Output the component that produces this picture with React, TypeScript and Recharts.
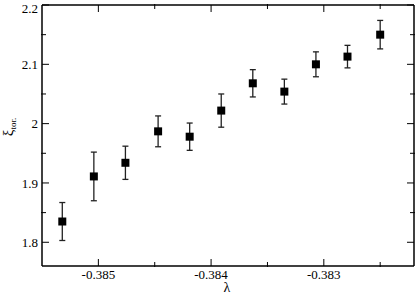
import { ScatterChart, Scatter, XAxis, YAxis, ErrorBar } from "recharts"

// lambda values and xi_tor. with error estimates
const lambdas = [-0.38532, -0.38504, -0.38476, -0.38447, -0.38419, -0.38391, -0.38363, -0.38335, -0.38307, -0.38279, -0.3825]
const xiTor = [1.835, 1.911, 1.934, 1.987, 1.978, 2.022, 2.068, 2.054, 2.1, 2.113, 2.15]
const xiErr = [0.032, 0.041, 0.028, 0.026, 0.023, 0.028, 0.023, 0.021, 0.021, 0.019, 0.024]

const xMajor = [-0.385, -0.384, -0.383]
const xMinor = [-0.3845, -0.3835, -0.3825]
const yMajor = [1.8, 1.9, 2, 2.1, 2.2]
const yMinor = [1.85, 1.95, 2.05, 2.15]

const xDomain = [-0.3855, -0.3822]
const yDomain = [1.76, 2.2]

const data = lambdas.map((x, i) => ({ x, y: xiTor[i], err: xiErr[i] }))

const font = "Liberation Serif, Times New Roman, serif"
const tickStyle = { fontSize: 13, fill: "#000", style: { fontFamily: font } }
const axisLine = { stroke: "#000", strokeWidth: 1.5 }
const tickLine = { stroke: "#000", strokeWidth: 1 }
const noLabel = () => <g />

export default function App() {
  return (
    <div style={{ position: "absolute", left: 0, top: 0, fontFamily: font }}>
      <ScatterChart width={416} height={295} margin={{ top: 3, right: 0, bottom: 27, left: 40 }}
        style={{ fontFamily: font }}>
        {/* major axes (nearest the plot) */}
        <XAxis xAxisId="b" type="number" dataKey="x" domain={xDomain} allowDataOverflow ticks={xMajor}
          height={1} axisLine={axisLine} tickLine={tickLine} tickSize={-7} tickMargin={11} tick={tickStyle}
          label={{
            content: ({ viewBox }: any) => (
              <text x={viewBox.x + viewBox.width / 2 - 1} y={292} textAnchor="middle" fontSize={14}
                style={{ fontFamily: font }} fill="#000">λ</text>
            ),
          }} />
        <XAxis xAxisId="t" orientation="top" type="number" dataKey="x" domain={xDomain} allowDataOverflow ticks={xMajor}
          height={1} axisLine={axisLine} tickLine={tickLine} tickSize={-7} tick={noLabel} />
        <YAxis yAxisId="l" type="number" dataKey="y" domain={yDomain} allowDataOverflow ticks={yMajor}
          width={1} axisLine={axisLine} tickLine={tickLine} tickSize={-7} tickMargin={11} tick={tickStyle}
          label={{
            content: () => (
              <text transform="rotate(-90, 13, 127)" x={13} y={127} textAnchor="middle"
                style={{ fontFamily: font }} fill="#000">
                <tspan fontSize={15}>ξ</tspan>
                <tspan fontSize={9} dy={3}>tor.</tspan>
              </text>
            ),
          }} />
        <YAxis yAxisId="r" orientation="right" type="number" dataKey="y" domain={yDomain} allowDataOverflow ticks={yMajor}
          width={1} axisLine={axisLine} tickLine={tickLine} tickSize={-7} tick={noLabel} />

        {/* minor ticks, one pixel further out */}
        <XAxis xAxisId="bm" type="number" dataKey="x" domain={xDomain} allowDataOverflow ticks={xMinor}
          height={1} axisLine={false} tickLine={tickLine} tickSize={-5} tick={noLabel} />
        <XAxis xAxisId="tm" orientation="top" type="number" dataKey="x" domain={xDomain} allowDataOverflow ticks={xMinor}
          height={1} axisLine={false} tickLine={tickLine} tickSize={-5} tick={noLabel} />
        <YAxis yAxisId="lm" type="number" dataKey="y" domain={yDomain} allowDataOverflow ticks={yMinor}
          width={1} axisLine={false} tickLine={tickLine} tickSize={-5} tick={noLabel} />
        <YAxis yAxisId="rm" orientation="right" type="number" dataKey="y" domain={yDomain} allowDataOverflow ticks={yMinor}
          width={1} axisLine={false} tickLine={tickLine} tickSize={-5} tick={noLabel} />

        <Scatter data={data} xAxisId="b" yAxisId="l" shape="square" fill="#000" isAnimationActive={false}>
          <ErrorBar dataKey="err" direction="y" width={3} stroke="#222" strokeWidth={1.3} />
        </Scatter>
      </ScatterChart>
    </div>
  )
}
